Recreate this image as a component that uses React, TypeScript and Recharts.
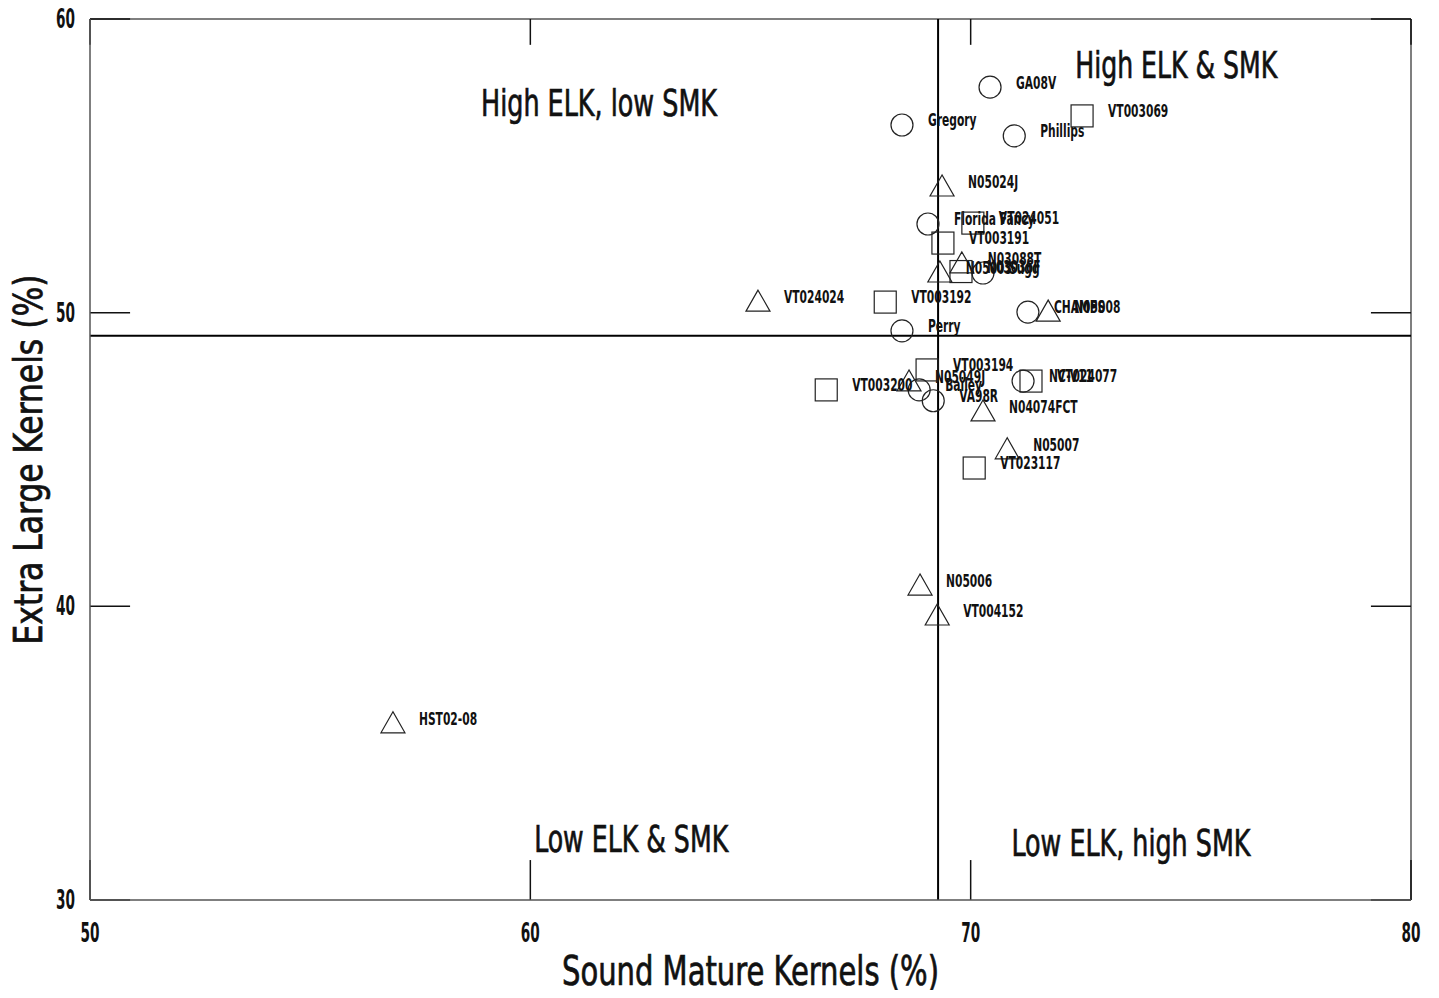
import React from "react";
import { ScatterChart, Scatter, XAxis, YAxis, ReferenceLine, ReferenceDot } from "recharts";

const FONT = "'Liberation Sans Narrow', 'DejaVu Sans Condensed', sans-serif";

const xTicks = [50, 60, 70, 80];
const yTicks = [30, 40, 50, 60];
const meanSmk = 69.26;
const meanElk = 49.21;

const circles = [
  { name: "GA08V", smk: 70.44, elk: 57.68 },
  { name: "Gregory", smk: 68.44, elk: 56.39 },
  { name: "Phillips", smk: 70.99, elk: 56.02 },
  { name: "Florida Fancy", smk: 69.03, elk: 53.02 },
  { name: "Sugg", smk: 70.28, elk: 51.35 },
  { name: "Perry", smk: 68.44, elk: 49.38 },
  { name: "CHAMPS", smk: 71.3, elk: 50.02 },
  { name: "Bailey", smk: 68.83, elk: 47.37 },
  { name: "VA98R", smk: 69.15, elk: 47.0 },
  { name: "NC-V11", smk: 71.19, elk: 47.67 }
];

const triangles = [
  { name: "N05024J", smk: 69.35, elk: 54.28 },
  { name: "N03088T", smk: 69.8, elk: 51.66 },
  { name: "N05003", smk: 69.3, elk: 51.35 },
  { name: "VT024024", smk: 65.17, elk: 50.36 },
  { name: "N05008", smk: 71.76, elk: 50.02 },
  { name: "N05049J", smk: 68.6, elk: 47.64 },
  { name: "N04074FCT", smk: 70.28, elk: 46.62 },
  { name: "N05007", smk: 70.83, elk: 45.33 },
  { name: "N05006", smk: 68.85, elk: 40.69 },
  { name: "VT004152", smk: 69.24, elk: 39.67 },
  { name: "HST02-08", smk: 56.88, elk: 36.0 }
];

const squares = [
  { name: "VT003069", smk: 72.53, elk: 56.7 },
  { name: "VT024051", smk: 70.05, elk: 53.05 },
  { name: "VT003191", smk: 69.37, elk: 52.37 },
  { name: "N03036F", smk: 69.78, elk: 51.4 },
  { name: "VT003192", smk: 68.06, elk: 50.36 },
  { name: "VT003194", smk: 69.01, elk: 48.05 },
  { name: "VT003200", smk: 66.72, elk: 47.37 },
  { name: "VT024077", smk: 71.37, elk: 47.67 },
  { name: "VT023117", smk: 70.08, elk: 44.71 }
];

const quadrants = [
  { text: "High ELK & SMK", smk: 74.67, elk: 57.99, len: 202 },
  { text: "High ELK, low SMK", smk: 61.56, elk: 56.7, len: 236 },
  { text: "Low ELK & SMK", smk: 62.29, elk: 31.64, len: 194 },
  { text: "Low ELK, high SMK", smk: 73.64, elk: 31.5, len: 239 }
];

// condensed look: squeeze the fallback font horizontally
const label = (cx: number, cy: number, name: string) => (
  <text
    x={0}
    y={0}
    transform={`translate(${cx + 26},${cy - 5}) scale(0.7,1)`}
    dominantBaseline="central"
    fontSize={17}
    fontWeight="bold"
    fontFamily={FONT}
    fill="#111"
  >
    {name}
  </text>
);

const makeShape = (kind: string) => (props: any) => {
  const { cx, cy, payload } = props;
  let mark;
  if (kind === "circle") mark = <circle cx={cx} cy={cy} r={11} fill="none" stroke="#222" strokeWidth={1.2} />;
  else if (kind === "square") mark = <rect x={cx - 11} y={cy - 11} width={22} height={22} fill="none" stroke="#222" strokeWidth={1.2} />;
  else mark = <polygon points={`${cx},${cy - 12} ${cx - 12},${cy + 9} ${cx + 12},${cy + 9}`} fill="none" stroke="#222" strokeWidth={1.2} />;
  return (
    <g>
      {mark}
      {label(cx, cy, payload.name)}
    </g>
  );
};

const XTick = (props: any) => (
  <text x={props.x} y={props.y + 42} textAnchor="middle" fontSize={26} fontWeight="bold" fontFamily={FONT} fill="#111" textLength={19} lengthAdjust="spacingAndGlyphs">
    {props.payload.value}
  </text>
);

const YTick = (props: any) => (
  <text x={props.x - 15} y={props.y + 9} textAnchor="end" fontSize={26} fontWeight="bold" fontFamily={FONT} fill="#111" textLength={19} lengthAdjust="spacingAndGlyphs">
    {props.payload.value}
  </text>
);

const tickStroke = { stroke: "#111", strokeWidth: 1.5 };
const heavy = { stroke: "#111", strokeWidth: 0.7 };

export default function App() {
  return (
    <div style={{ margin: -8 }}>
      <ScatterChart width={1439} height={998} margin={{ top: 19, right: 28, bottom: 0, left: 0 }}>
        <XAxis
          type="number"
          dataKey="smk"
          domain={[50, 80]}
          ticks={xTicks}
          interval={0}
          tickLine={false}
          tickSize={0}
          tickMargin={0}
          height={98}
          axisLine={{ stroke: "#555", strokeWidth: 1.5 }}
          tick={<XTick />}
          label={{
            content: ({ viewBox }: any) => (
              <text x={viewBox.x + viewBox.width / 2} y={viewBox.y + 85} textAnchor="middle" fontSize={40} fontFamily={FONT} fill="#111" {...heavy} textLength={377} lengthAdjust="spacingAndGlyphs">
                Sound Mature Kernels (%)
              </text>
            )
          }}
        />
        <YAxis
          type="number"
          dataKey="elk"
          domain={[30, 60]}
          ticks={yTicks}
          interval={0}
          tickLine={false}
          tickSize={0}
          tickMargin={0}
          width={90}
          axisLine={{ stroke: "#555", strokeWidth: 1.5 }}
          tick={<YTick />}
          label={{
            content: ({ viewBox }: any) => (
              <text x={42} y={viewBox.y + viewBox.height / 2} transform={`rotate(-90 42 ${viewBox.y + viewBox.height / 2})`} textAnchor="middle" fontSize={39} fontFamily={FONT} fill="#111" {...heavy} textLength={370} lengthAdjust="spacingAndGlyphs">
                Extra Large Kernels (%)
              </text>
            )
          }}
        />
        <ReferenceLine y={60} stroke="#555" strokeWidth={1.5} />
        <ReferenceLine x={80} stroke="#555" strokeWidth={1.5} />
        {xTicks.map((t) => (
          <ReferenceLine key={`xb${t}`} segment={[{ x: t, y: 30 }, { x: t, y: 31.36 }]} {...tickStroke} />
        ))}
        {xTicks.map((t) => (
          <ReferenceLine key={`xt${t}`} segment={[{ x: t, y: 60 }, { x: t, y: 59.12 }]} {...tickStroke} />
        ))}
        {yTicks.map((t) => (
          <ReferenceLine key={`yl${t}`} segment={[{ x: 50, y: t }, { x: 50.91, y: t }]} {...tickStroke} />
        ))}
        {yTicks.map((t) => (
          <ReferenceLine key={`yr${t}`} segment={[{ x: 80, y: t }, { x: 79.09, y: t }]} {...tickStroke} />
        ))}
        <ReferenceLine x={meanSmk} stroke="#000" strokeWidth={2} />
        <ReferenceLine y={meanElk} stroke="#000" strokeWidth={2} />
        {quadrants.map((q) => (
          <ReferenceDot
            key={q.text}
            x={q.smk}
            y={q.elk}
            r={0}
            shape={(p: any) => (
              <text x={p.cx} y={p.cy} textAnchor="middle" fontSize={38} fontFamily={FONT} fill="#111" {...heavy} textLength={q.len} lengthAdjust="spacingAndGlyphs">
                {q.text}
              </text>
            )}
          />
        ))}
        <Scatter data={circles} shape={makeShape("circle")} isAnimationActive={false} />
        <Scatter data={triangles} shape={makeShape("triangle")} isAnimationActive={false} />
        <Scatter data={squares} shape={makeShape("square")} isAnimationActive={false} />
      </ScatterChart>
    </div>
  );
}
